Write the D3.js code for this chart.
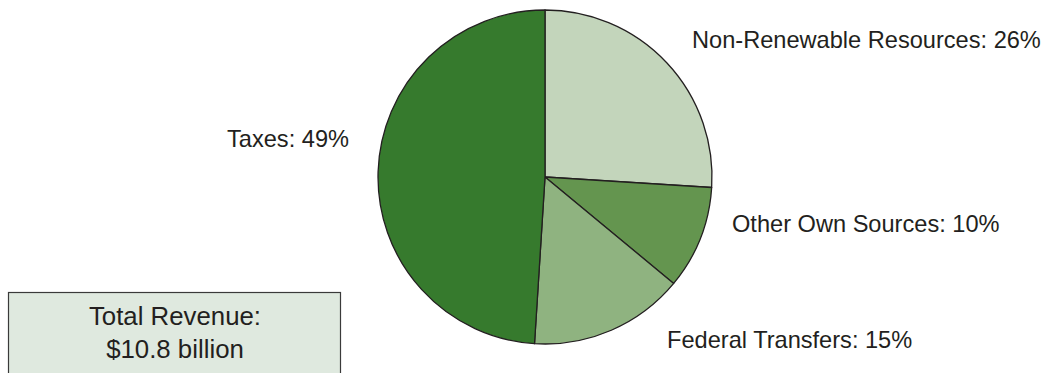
<!DOCTYPE html>
<html><head><meta charset="utf-8">
<script src="https://cdn.jsdelivr.net/npm/d3@7"></script>
<style>
html,body{margin:0;padding:0;background:#fff;}
svg{display:block;}
text{font-family:"Liberation Sans",Arial,Helvetica,sans-serif;fill:#231f20;}
</style></head>
<body>
<svg id="chart" width="1050" height="373"></svg>
<script>
// Data
const categories = ["Non-Renewable Resources", "Other Own Sources", "Federal Transfers", "Taxes"];
const shares = [26, 10, 15, 49];
const colors = ["#c3d5bb", "#64954f", "#8fb380", "#367a2d"];
const totalLines = ["Total Revenue:", "$10.8 billion"];

// Layout (label anchor positions, not data)
const labelLayout = [
  {x: 692, y: 48, anchor: "start"},
  {x: 732, y: 232, anchor: "start"},
  {x: 667, y: 348, anchor: "start"},
  {x: 349, y: 147, anchor: "end"}
];

const svg = d3.select("#chart");
const cx = 545, cy = 177, r = 167;
const fs = 23.6;

const pie = d3.pie().sort(null).value(d => d.v);
const arc = d3.arc().innerRadius(0).outerRadius(r);
const data = categories.map((c, i) => ({c, v: shares[i], color: colors[i]}));

const g = svg.append("g").attr("transform", `translate(${cx},${cy})`);
g.selectAll("path").data(pie(data)).join("path")
  .attr("d", arc)
  .attr("fill", d => d.data.color)
  .attr("stroke", "#231f20")
  .attr("stroke-width", 1.3)
  .attr("stroke-linejoin", "round");

svg.selectAll("text.lbl").data(data).join("text")
  .attr("class", "lbl")
  .attr("x", (d, i) => labelLayout[i].x)
  .attr("y", (d, i) => labelLayout[i].y)
  .attr("text-anchor", (d, i) => labelLayout[i].anchor)
  .attr("font-size", fs)
  .text(d => `${d.c}: ${d.v}%`);

// Total box
svg.append("rect")
  .attr("x", 8.5).attr("y", 292.5)
  .attr("width", 332).attr("height", 100)
  .attr("fill", "#dfe9df")
  .attr("stroke", "#3a3a3a")
  .attr("stroke-width", 1.2);

svg.selectAll("text.tot").data(totalLines).join("text")
  .attr("class", "tot")
  .attr("x", 175)
  .attr("y", (d, i) => 325 + i * 33)
  .attr("text-anchor", "middle")
  .attr("font-size", 25.8)
  .text(d => d);
</script>
</body></html>
